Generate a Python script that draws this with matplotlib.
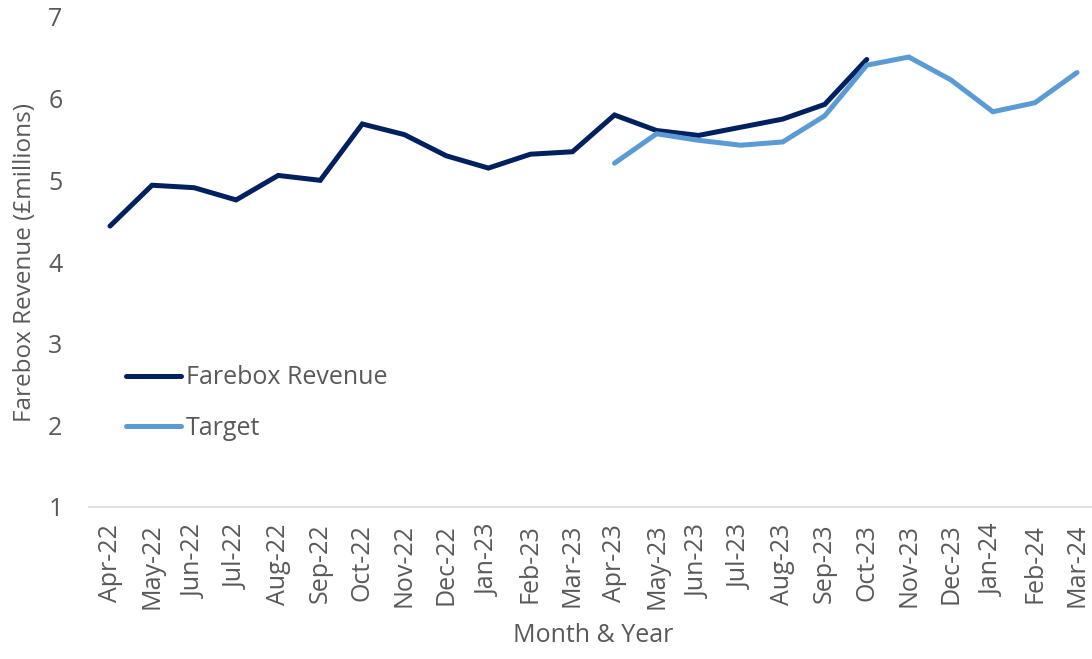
import matplotlib.pyplot as plt

plt.rcParams['font.family'] = ['Open Sans', 'DejaVu Sans']

months = ['Apr-22', 'May-22', 'Jun-22', 'Jul-22', 'Aug-22', 'Sep-22', 'Oct-22', 'Nov-22',
          'Dec-22', 'Jan-23', 'Feb-23', 'Mar-23', 'Apr-23', 'May-23', 'Jun-23', 'Jul-23',
          'Aug-23', 'Sep-23', 'Oct-23', 'Nov-23', 'Dec-23', 'Jan-24', 'Feb-24', 'Mar-24']

# farebox revenue Apr-22 .. Oct-23
farebox = [4.44, 4.94, 4.91, 4.76, 5.06, 5.00, 5.69, 5.56, 5.30, 5.15, 5.32, 5.35,
           5.80, 5.61, 5.55, 5.65, 5.75, 5.93, 6.48]
# target Apr-23 .. Mar-24
target = [5.21, 5.57, 5.49, 5.43, 5.47, 5.79, 6.41, 6.51, 6.23, 5.84, 5.95, 6.32]

grey = '#595959'
fig = plt.figure(figsize=(10.92, 6.59), dpi=100)
ax = fig.add_axes([89 / 1092, 1 - 507 / 659, 1009 / 1092, 490 / 659])

x_fare = list(range(len(farebox)))
x_targ = list(range(12, 12 + len(target)))
ax.plot(x_fare, farebox, color='#002060', lw=3.6, solid_capstyle='round',
        solid_joinstyle='miter', label='Farebox Revenue')
ax.plot(x_targ, target, color='#5B9BD5', lw=3.6, solid_capstyle='round',
        solid_joinstyle='miter', label='Target')

ax.set_xlim(-0.5, 23.5)
ax.set_ylim(1, 7)
ax.set_xticks(range(len(months)))
ax.set_xticklabels(months, rotation=90)
ax.set_yticks(range(1, 8))
ax.tick_params(axis='both', length=0, labelsize=18, colors=grey)
ax.tick_params(axis='y', pad=19)
ax.tick_params(axis='x', pad=12)
for s in ['top', 'right', 'left']:
    ax.spines[s].set_visible(False)
ax.spines['bottom'].set_color('#D9D9D9')
ax.spines['bottom'].set_linewidth(1.2)

ax.set_ylabel('Farebox Revenue (£millions)', fontsize=17.5, color=grey, labelpad=8)
ax.set_xlabel('Month & Year', fontsize=18, color=grey, labelpad=10)

leg = ax.legend(loc='center left', bbox_to_anchor=(0.014, 0.212), frameon=False,
                fontsize=18, handlelength=2.2, handletextpad=0.2, labelspacing=1.02)
for t in leg.get_texts():
    t.set_color(grey)

plt.savefig('out.png', dpi=100)
